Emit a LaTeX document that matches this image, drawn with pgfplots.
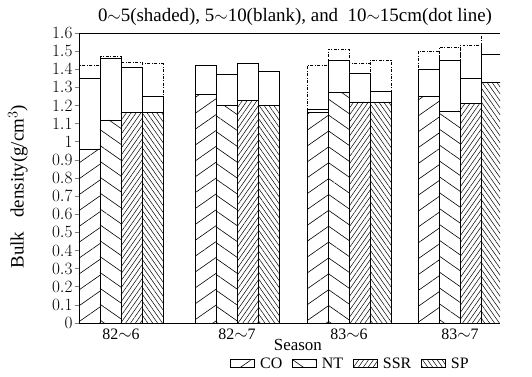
\documentclass[border=0pt]{standalone}
\usepackage{pgfplots}
\pgfplotsset{compat=1.18}
\usepackage{pgfplotstable}
\usetikzlibrary{patterns.meta}
\usepackage{fontspec}
\setmainfont{Liberation Serif}

% x = group centre, v1 = 0-5 cm (shaded), v2 = 5-10 cm (blank), v3 = 10-15 cm (dot line)
\pgfplotstableread{
x v1 v2 v3
121 0.96 1.35 1.42
237 1.26 1.42 1.42
349 1.16 1.18 1.42
460 1.25 1.40 1.50
}\co
\pgfplotstableread{
x v1 v2 v3
121 1.12 1.46 1.47
237 1.20 1.37 1.37
349 1.27 1.45 1.51
460 1.17 1.45 1.52
}\nt
\pgfplotstableread{
x v1 v2 v3
121 1.16 1.41 1.44
237 1.23 1.43 1.43
349 1.22 1.38 1.43
460 1.21 1.35 1.53
}\ssr
\pgfplotstableread{
x v1 v2 v3
121 1.16 1.25 1.43
237 1.20 1.39 1.39
349 1.22 1.28 1.45
460 1.33 1.48 1.60
}\sp

\begin{document}
\begin{tikzpicture}
\useasboundingbox (-79bp,-54bp) rectangle (453bp,323bp);
\begin{axis}[
  scale only axis, width=421bp, height=290bp,
  xmin=79, xmax=500, ymin=0, ymax=1.6,
  axis x line=box, axis y line=left,
  axis line style={-, line width=0.8pt},
  xtick={121,237,349,460},
  xticklabels={82$\sim$6,82$\sim$7,83$\sim$6,83$\sim$7},
  x tick style={draw=none},
  ytick={0,0.1,0.2,0.3,0.4,0.5,0.6,0.7,0.8,0.9,1,1.1,1.2,1.3,1.4,1.5,1.6},
  tick align=outside, major tick length=4bp,
  y tick style={line width=0.6pt},
  ticklabel style={font=\fontsize{16}{16}\selectfont},
  yticklabel style={xshift=1bp},
  xticklabel style={yshift=2bp},
  title={0$\sim$5(shaded), 5$\sim$10(blank), and\ \ 10$\sim$15cm(dot line)},
  title style={at={(axis description cs:0.513,1.035)}, anchor=center, yshift=0pt, font=\fontsize{19}{19}\selectfont},
  xlabel={Season},
  xlabel style={at={(axis description cs:0.52,-0.076)}, anchor=center, font=\fontsize{17}{17}\selectfont},
  ylabel={Bulk\ \ \ density(g/cm$^3$)},
  ylabel style={at={(axis description cs:-0.145,0.47)}, anchor=center, font=\fontsize{19}{19}\selectfont},
  legend style={at={(axis description cs:0.645,-0.142)}, anchor=center, draw=none, fill=none,
    legend columns=4, font=\fontsize{16}{16}\selectfont,
    /tikz/every even column/.append style={column sep=8bp},
    /tikz/every odd column/.append style={column sep=3bp}},
  legend image code/.code={\fill[white] (0bp,-3bp) rectangle (24bp,5bp);\path[#1] (0bp,-3bp) rectangle (24bp,5bp);\draw[line width=0.5pt] (0bp,-3bp) -- (24bp,-3bp);},
  pattern color=black,
  every axis plot/.append style={ybar, bar width=21, line width=0.7pt, draw=black},
]
% blank layers (5-10 cm)
\addplot[forget plot, fill=white, bar shift=-31.5] table[x=x,y=v2]{\co};
\addplot[forget plot, fill=white, bar shift=-10.5] table[x=x,y=v2]{\nt};
\addplot[forget plot, fill=white, bar shift=10.5] table[x=x,y=v2]{\ssr};
\addplot[forget plot, fill=white, bar shift=31.5] table[x=x,y=v2]{\sp};
% shaded layers (0-5 cm)
\addplot[pattern={Lines[angle=35,distance=13bp,line width=0.6pt]}, bar shift=-31.5] table[x=x,y=v1]{\co};
\addplot[pattern={Lines[angle=145,distance=13bp,line width=0.6pt]}, bar shift=-10.5] table[x=x,y=v1]{\nt};
\addplot[pattern={Lines[angle=55,distance=4bp,line width=0.5pt]}, bar shift=10.5] table[x=x,y=v1]{\ssr};
\addplot[pattern={Lines[angle=125,distance=4bp,line width=0.5pt]}, bar shift=31.5] table[x=x,y=v1]{\sp};
% dot-line layers (10-15 cm)
\addplot[forget plot, fill=none, dash pattern=on 3pt off 1.5pt on 1pt off 1.5pt, bar shift=-31.5] table[x=x,y=v3]{\co};
\addplot[forget plot, fill=none, dash pattern=on 3pt off 1.5pt on 1pt off 1.5pt, bar shift=-10.5] table[x=x,y=v3]{\nt};
\addplot[forget plot, fill=none, dash pattern=on 3pt off 1.5pt on 1pt off 1.5pt, bar shift=10.5] table[x=x,y=v3]{\ssr};
\addplot[forget plot, fill=none, dash pattern=on 3pt off 1.5pt on 1pt off 1.5pt, bar shift=31.5] table[x=x,y=v3]{\sp};
\legend{CO,NT,SSR,SP}
\end{axis}
\end{tikzpicture}
\end{document}
